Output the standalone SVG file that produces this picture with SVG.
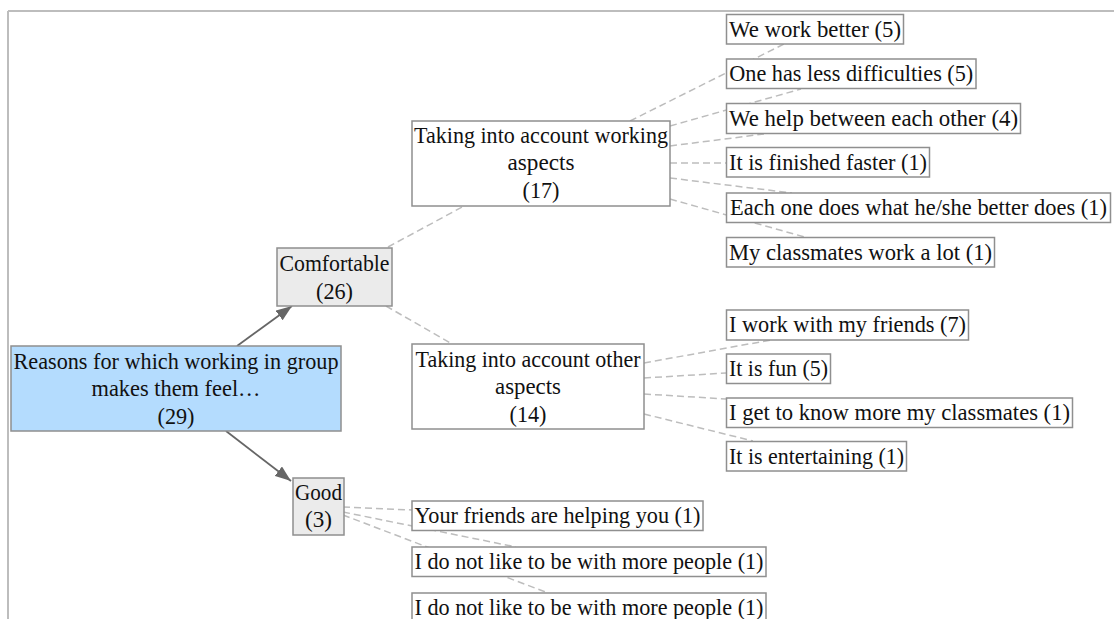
<svg xmlns="http://www.w3.org/2000/svg" width="1114" height="619" viewBox="0 0 1114 619">
<style>
text{font-family:"Liberation Serif","Times New Roman",serif;font-size:24px;fill:#111;text-anchor:middle}
.box{fill:#fff;stroke:#8f8f8f;stroke-width:1.5}
.cat{fill:#ebebeb;stroke:#8f8f8f;stroke-width:1.5}
.root{fill:#b4dcfe;stroke:#8f8f8f;stroke-width:1.5}
.dash{stroke:#bdbdbd;stroke-width:1.5;stroke-dasharray:7,4;fill:none}
.arr{stroke:#666;stroke-width:1.8;fill:none;marker-end:url(#ah)}
.frame{stroke:#bdbdbd;stroke-width:2}
</style>
<defs>
<marker id="ah" markerUnits="userSpaceOnUse" markerWidth="17" markerHeight="12" refX="16" refY="6" orient="auto">
<path d="M0,0 L16,6 L0,12 z" fill="#666"/>
</marker>
</defs>
<rect width="1114" height="619" fill="#fff"/>
<g id="frame">
<line class="frame" x1="8" y1="11" x2="1114" y2="11"/>
<line class="frame" x1="8" y1="11" x2="8" y2="619"/>
</g>
<g id="connectors">
<line class="arr" x1="237" y1="346" x2="292" y2="306"/>
<line class="arr" x1="226" y1="431" x2="291" y2="481"/>
<line class="dash" x1="388" y1="247" x2="464" y2="206"/>
<line class="dash" x1="386" y1="306" x2="452" y2="344"/>
<line class="dash" x1="630" y1="121" x2="784" y2="44"/>
<line class="dash" x1="670" y1="126" x2="801" y2="89"/>
<line class="dash" x1="670" y1="146" x2="764" y2="134"/>
<line class="dash" x1="670" y1="163" x2="726" y2="163"/>
<line class="dash" x1="670" y1="178" x2="792" y2="193"/>
<line class="dash" x1="670" y1="199" x2="808" y2="238"/>
<line class="dash" x1="644" y1="363" x2="771" y2="340"/>
<line class="dash" x1="644" y1="378" x2="726" y2="373"/>
<line class="dash" x1="644" y1="394" x2="726" y2="399"/>
<line class="dash" x1="644" y1="414" x2="753" y2="441"/>
<line class="dash" x1="343" y1="507" x2="412" y2="510"/>
<line class="dash" x1="343" y1="512" x2="516" y2="547"/>
<line class="dash" x1="343" y1="515" x2="548" y2="593"/>
</g>
<g id="root">
<rect class="root" x="11" y="346" width="330" height="85"/>
<text x="176" y="369" textLength="325" lengthAdjust="spacingAndGlyphs">Reasons for which working in group</text>
<text x="176" y="396" textLength="169" lengthAdjust="spacingAndGlyphs">makes them feel…</text>
<text x="176" y="424" textLength="37" lengthAdjust="spacingAndGlyphs">(29)</text>
</g>
<g id="comfortable">
<rect class="cat" x="277" y="248" width="115" height="58"/>
<text x="334.5" y="271" textLength="110" lengthAdjust="spacingAndGlyphs">Comfortable</text>
<text x="334.5" y="299" textLength="37" lengthAdjust="spacingAndGlyphs">(26)</text>
</g>
<g id="good">
<rect class="cat" x="293" y="478" width="51" height="57"/>
<text x="318.5" y="500" textLength="47" lengthAdjust="spacingAndGlyphs">Good</text>
<text x="318.5" y="527" textLength="27" lengthAdjust="spacingAndGlyphs">(3)</text>
</g>
<g id="working">
<rect class="box" x="412" y="121" width="258" height="85"/>
<text x="541" y="143" textLength="254" lengthAdjust="spacingAndGlyphs">Taking into account working</text>
<text x="541" y="170" textLength="67" lengthAdjust="spacingAndGlyphs">aspects</text>
<text x="541" y="198" textLength="37" lengthAdjust="spacingAndGlyphs">(17)</text>
</g>
<g id="other">
<rect class="box" x="412" y="344" width="232" height="85"/>
<text x="528" y="367" textLength="225" lengthAdjust="spacingAndGlyphs">Taking into account other</text>
<text x="528" y="394" textLength="66" lengthAdjust="spacingAndGlyphs">aspects</text>
<text x="528" y="422" textLength="37" lengthAdjust="spacingAndGlyphs">(14)</text>
</g>
<g id="l1"><rect class="box" x="726.5" y="14.5" width="177" height="29.5"/><text x="815" y="36.5" textLength="172" lengthAdjust="spacingAndGlyphs">We work better (5)</text></g>
<g id="l2"><rect class="box" x="726.5" y="59" width="249.5" height="29.5"/><text x="851.25" y="81" textLength="244" lengthAdjust="spacingAndGlyphs">One has less difficulties (5)</text></g>
<g id="l3"><rect class="box" x="726.5" y="103.5" width="294" height="30"/><text x="873.5" y="125.5" textLength="289" lengthAdjust="spacingAndGlyphs">We help between each other (4)</text></g>
<g id="l4"><rect class="box" x="726.5" y="147.5" width="203" height="29.5"/><text x="828" y="169.5" textLength="198" lengthAdjust="spacingAndGlyphs">It is finished faster (1)</text></g>
<g id="l5"><rect class="box" x="726.5" y="193" width="384" height="29.5"/><text x="918.5" y="215" font-size="22.5" textLength="377" lengthAdjust="spacingAndGlyphs">Each one does what he/she better does (1)</text></g>
<g id="l6"><rect class="box" x="726.5" y="237.5" width="268" height="29.5"/><text x="860.5" y="259.5" textLength="263" lengthAdjust="spacingAndGlyphs">My classmates work a lot (1)</text></g>
<g id="l7"><rect class="box" x="726.5" y="310" width="242" height="30"/><text x="847.5" y="332" textLength="237" lengthAdjust="spacingAndGlyphs">I work with my friends (7)</text></g>
<g id="l8"><rect class="box" x="726.5" y="354" width="104" height="29.5"/><text x="778.5" y="376" textLength="99" lengthAdjust="spacingAndGlyphs">It is fun (5)</text></g>
<g id="l9"><rect class="box" x="726.5" y="398" width="346" height="29.5"/><text x="899.5" y="420" textLength="341" lengthAdjust="spacingAndGlyphs">I get to know more my classmates (1)</text></g>
<g id="l10"><rect class="box" x="726.5" y="441.5" width="180" height="29.5"/><text x="816.5" y="463.5" textLength="175" lengthAdjust="spacingAndGlyphs">It is entertaining (1)</text></g>
<g id="l11"><rect class="box" x="412" y="501" width="291" height="29.5"/><text x="557.5" y="523" textLength="286" lengthAdjust="spacingAndGlyphs">Your friends are helping you (1)</text></g>
<g id="l12"><rect class="box" x="412" y="547" width="354" height="29.5"/><text x="589" y="569" textLength="349" lengthAdjust="spacingAndGlyphs">I do not like to be with more people (1)</text></g>
<g id="l13"><rect class="box" x="412" y="593" width="354" height="29.5"/><text x="589" y="615" textLength="349" lengthAdjust="spacingAndGlyphs">I do not like to be with more people (1)</text></g>
</svg>
